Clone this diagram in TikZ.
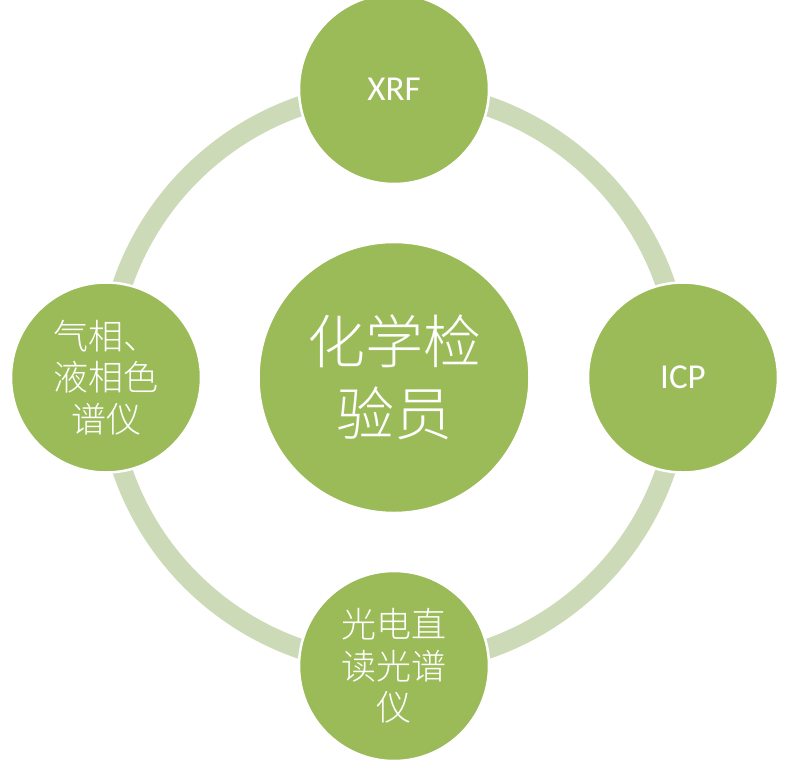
\documentclass[tikz,border=0pt]{standalone}
\usepackage{fontspec}
\setmainfont{Carlito}
\newfontfamily\cjk{Noto Sans CJK SC Light}
\definecolor{nodegreen}{HTML}{9BBB59}
\definecolor{ringgreen}{HTML}{CDDAB7}
\begin{document}
\begin{tikzpicture}[x=1pt,y=-1pt,
  bubble/.style={circle, fill=nodegreen, draw=white, line width=2.5pt,
    minimum size=190pt, inner sep=0pt, text=white, align=center},
  hub/.style={bubble, minimum size=271pt},
  latin/.style={font=\fontsize{35}{42}\selectfont},
  cjksmall/.style={font=\cjk\fontsize{35}{41.5}\selectfont},
  cjkbig/.style={font=\cjk\fontsize{58}{72}\selectfont},
  ringline/.style={draw=ringgreen, line width=20pt}]
\useasboundingbox (0,0) rectangle (801,761);
\clip (0,0) rectangle (801,761);
\coordinate (c) at (394,377.5);
\draw[ringline] (c) circle[radius=287pt];
\node[hub, cjkbig] (center) at (c) {化学检\\验员};
\node[bubble, latin] (xrf) at (394,89) {XRF};
\node[bubble, latin] (icp) at (683,377.5) {ICP};
\node[bubble, cjksmall] (gc) at (106,377.5) {气相、\\液相色\\谱仪};
\node[bubble, cjksmall] (oes) at (394,666) {光电直\\读光谱\\仪};
\end{tikzpicture}
\end{document}
